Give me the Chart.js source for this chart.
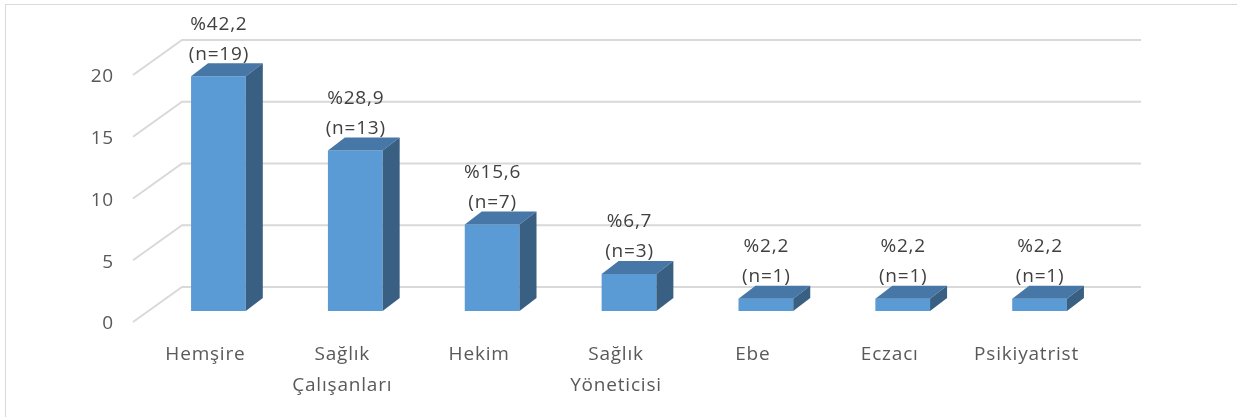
<!DOCTYPE html>
<html>
<head>
<meta charset="utf-8">
<script src="https://cdn.jsdelivr.net/npm/chart.js@4"></script>
<style>
  body { margin: 0; background: #fff; }
</style>
</head>
<body>
<canvas id="barChart" width="1237" height="417"></canvas>
<script>
// data
const categories = ['Hemşire', ['Sağlık', 'Çalışanları'], 'Hekim', ['Sağlık', 'Yöneticisi'], 'Ebe', 'Eczacı', 'Psikiyatrist'];
const counts = [19, 13, 7, 3, 1, 1, 1];
const percents = ['42,2', '28,9', '15,6', '6,7', '2,2', '2,2', '2,2'];
const yTicks = [0, 5, 10, 15, 20];

const FONT = '"Open Sans", sans-serif';

// fake 3d: bar depth and wall offsets
const depth = { dx: 17, dy: 13 };

const frame3d = {
    id: 'frame3d',
    beforeDraw(chart) {
        let ctx = chart.ctx;
        ctx.letterSpacing = '0.8px';
        ctx.save();
        // outer border
        ctx.strokeStyle = '#d9d9d9';
        ctx.lineWidth = 1;
        ctx.strokeRect(5.5, 4.5, 1400, 600);
        // back wall gridlines + side wall diagonals
        let y = chart.scales.y;
        let a = chart.chartArea;
        ctx.lineWidth = 2;
        yTicks.forEach((v) => {
            let py = y.getPixelForValue(v);
            ctx.beginPath();
            ctx.moveTo(a.left - 17, py + 11);
            ctx.lineTo(a.left + 32, py - 24);
            ctx.lineTo(a.right + 33, py - 24);
            ctx.stroke();
        });
        ctx.restore();
    },
    afterDatasetsDraw(chart) {
        let ctx = chart.ctx;
        let meta = chart.getDatasetMeta(0);
        ctx.save();
        meta.data.forEach((bar, i) => {
            let l = bar.x - bar.width / 2;
            let r = bar.x + bar.width / 2;
            let t = bar.y;
            let b = bar.base;
            // top face
            ctx.fillStyle = '#4677a6';
            ctx.beginPath();
            ctx.moveTo(l, t);
            ctx.lineTo(r, t);
            ctx.lineTo(r + depth.dx, t - depth.dy);
            ctx.lineTo(l + depth.dx, t - depth.dy);
            ctx.closePath();
            ctx.fill();
            // side face
            ctx.fillStyle = '#395f83';
            ctx.beginPath();
            ctx.moveTo(r, t);
            ctx.lineTo(r + depth.dx, t - depth.dy);
            ctx.lineTo(r + depth.dx, b - depth.dy);
            ctx.lineTo(r, b);
            ctx.closePath();
            ctx.fill();
            // labels
            ctx.fillStyle = '#404040';
            ctx.font = '19px ' + FONT;
            ctx.textAlign = 'center';
            ctx.textBaseline = 'middle';
            ctx.fillText('%' + percents[i], bar.x + 0.5, t - 52);
            ctx.fillText('(n=' + counts[i] + ')', bar.x + 0.5, t - 22);
        });
        ctx.restore();
    }
};

let ctx = document.getElementById('barChart').getContext('2d');
let myChart = new Chart(ctx, {
    type: 'bar',
    data: {
        labels: categories,
        datasets: [{
            data: counts,
            backgroundColor: '#5b9bd5',
            borderWidth: 0,
            barPercentage: 0.4,
            categoryPercentage: 1
        }]
    },
    options: {
        responsive: false,
        animation: false,
        events: [],
        layout: {
            padding: { left: 0, right: 129, top: 64, bottom: 0 }
        },
        plugins: {
            legend: { display: false },
            tooltip: { enabled: false }
        },
        scales: {
            x: {
                grid: { display: false, drawTicks: false },
                border: { display: false },
                afterFit: (s) => { s.height = 106; },
                ticks: {
                    color: '#595959',
                    font: { family: FONT, size: 19, lineHeight: 1.63 },
                    padding: 28,
                    labelOffset: -13,
                    maxRotation: 0,
                    autoSkip: false
                }
            },
            y: {
                min: 0,
                max: 20,
                grid: { display: false, drawTicks: false },
                border: { display: false },
                afterFit: (s) => { s.width = 150; },
                ticks: {
                    stepSize: 5,
                    color: '#595959',
                    font: { family: FONT, size: 19 },
                    padding: 36,
                    labelOffset: 13
                }
            }
        }
    },
    plugins: [frame3d]
});
</script>
</body>
</html>
